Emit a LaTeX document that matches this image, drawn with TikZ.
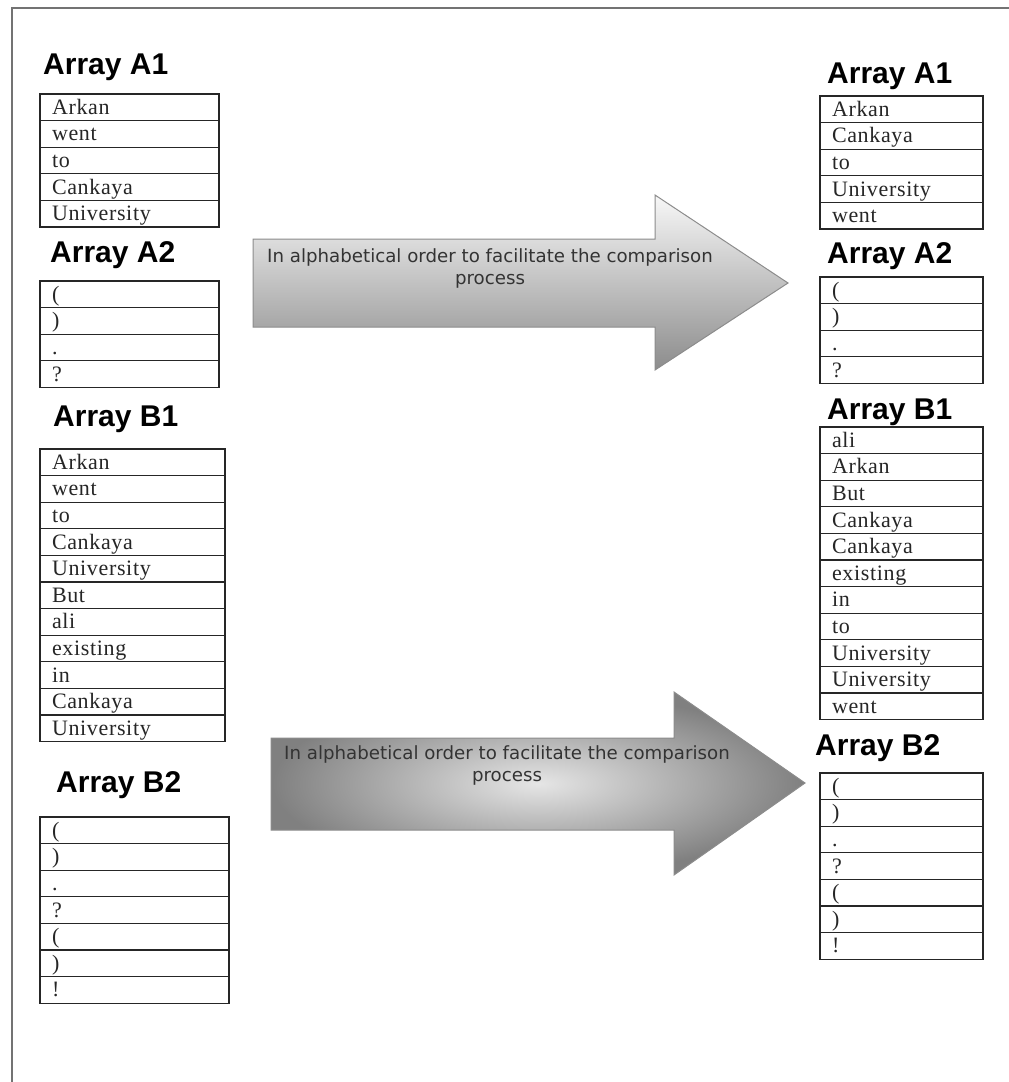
\documentclass[tikz,border=0pt]{standalone}
\usepackage{fontspec}
\newfontfamily\cellfont{Liberation Serif}[LetterSpace=3]
\newfontfamily\titlefont{Liberation Sans}
\newfontfamily\arrowfont{DejaVu Sans}
\usetikzlibrary{positioning}

\begin{document}
\begin{tikzpicture}[
  x=1pt, y=-1pt,
  node distance=0pt,
  cell/.style={draw=black!85, line width=1.3pt, fill=white, outer sep=0pt, inner xsep=12pt, inner ysep=1.3pt,
    text height=19pt, text depth=5pt, align=left, text=black!85, font=\cellfont\fontsize{22}{24}\selectfont},
  cellA/.style={cell, text width=155pt},
  cellB/.style={cell, text width=161pt},
  cellC/.style={cell, text width=165pt},
  cellR/.style={cell, text width=139pt},
  title/.style={anchor=base west, inner sep=0pt, font=\titlefont\bfseries\fontsize{30}{32}\selectfont},
  arrowtext/.style={align=center, inner sep=0pt, text=black!80, font=\arrowfont\fontsize{18.2}{22}\selectfont},
  frame/.style={draw=black!55, line width=2pt}
]
\useasboundingbox (0,0) rectangle (1009,1082);
\draw[frame] (12,1082) -- (12,8) -- (1009,8);

% left side: arrays as read
\node[title] (la1) at (43,74) {Array A1};
\node[cellA, anchor=north west] (la1-1) at (40,94) {Arkan};
\node[cellA, below=of la1-1] (la1-2) {went};
\node[cellA, below=of la1-2] (la1-3) {to};
\node[cellA, below=of la1-3] (la1-4) {Cankaya};
\node[cellA, below=of la1-4] (la1-5) {University};

\node[title] (la2) at (50,262) {Array A2};
\node[cellA, anchor=north west] (la2-1) at (40,281) {(};
\node[cellA, below=of la2-1] (la2-2) {)};
\node[cellA, below=of la2-2] (la2-3) {.};
\node[cellA, below=of la2-3] (la2-4) {?};

\node[title] (lb1) at (53,426) {Array B1};
\node[cellB, anchor=north west] (lb1-1) at (40,449) {Arkan};
\node[cellB, below=of lb1-1] (lb1-2) {went};
\node[cellB, below=of lb1-2] (lb1-3) {to};
\node[cellB, below=of lb1-3] (lb1-4) {Cankaya};
\node[cellB, below=of lb1-4] (lb1-5) {University};
\node[cellB, below=of lb1-5] (lb1-6) {But};
\node[cellB, below=of lb1-6] (lb1-7) {ali};
\node[cellB, below=of lb1-7] (lb1-8) {existing};
\node[cellB, below=of lb1-8] (lb1-9) {in};
\node[cellB, below=of lb1-9] (lb1-10) {Cankaya};
\node[cellB, below=of lb1-10] (lb1-11) {University};

\node[title] (lb2) at (56,792) {Array B2};
\node[cellC, anchor=north west] (lb2-1) at (40,817) {(};
\node[cellC, below=of lb2-1] (lb2-2) {)};
\node[cellC, below=of lb2-2] (lb2-3) {.};
\node[cellC, below=of lb2-3] (lb2-4) {?};
\node[cellC, below=of lb2-4] (lb2-5) {(};
\node[cellC, below=of lb2-5] (lb2-6) {)};
\node[cellC, below=of lb2-6] (lb2-7) {!};

% right side: sorted arrays
\node[title] (ra1) at (827,83) {Array A1};
\node[cellR, anchor=north west] (ra1-1) at (820,96) {Arkan};
\node[cellR, below=of ra1-1] (ra1-2) {Cankaya};
\node[cellR, below=of ra1-2] (ra1-3) {to};
\node[cellR, below=of ra1-3] (ra1-4) {University};
\node[cellR, below=of ra1-4] (ra1-5) {went};

\node[title] (ra2) at (827,263) {Array A2};
\node[cellR, anchor=north west] (ra2-1) at (820,277) {(};
\node[cellR, below=of ra2-1] (ra2-2) {)};
\node[cellR, below=of ra2-2] (ra2-3) {.};
\node[cellR, below=of ra2-3] (ra2-4) {?};

\node[title] (rb1) at (827,419) {Array B1};
\node[cellR, anchor=north west] (rb1-1) at (820,427) {ali};
\node[cellR, below=of rb1-1] (rb1-2) {Arkan};
\node[cellR, below=of rb1-2] (rb1-3) {But};
\node[cellR, below=of rb1-3] (rb1-4) {Cankaya};
\node[cellR, below=of rb1-4] (rb1-5) {Cankaya};
\node[cellR, below=of rb1-5] (rb1-6) {existing};
\node[cellR, below=of rb1-6] (rb1-7) {in};
\node[cellR, below=of rb1-7] (rb1-8) {to};
\node[cellR, below=of rb1-8] (rb1-9) {University};
\node[cellR, below=of rb1-9] (rb1-10) {University};
\node[cellR, below=of rb1-10] (rb1-11) {went};

\node[title] (rb2) at (815,755) {Array B2};
\node[cellR, anchor=north west] (rb2-1) at (820,773) {(};
\node[cellR, below=of rb2-1] (rb2-2) {)};
\node[cellR, below=of rb2-2] (rb2-3) {.};
\node[cellR, below=of rb2-3] (rb2-4) {?};
\node[cellR, below=of rb2-4] (rb2-5) {(};
\node[cellR, below=of rb2-5] (rb2-6) {)};
\node[cellR, below=of rb2-6] (rb2-7) {!};

% block arrows
\draw[draw=black!45, line width=1pt, top color=black!3, bottom color=black!45]
  (253,239) -- (655,239) -- (655,195) -- (788,283) -- (655,370) -- (655,327) -- (253,327) -- cycle;
\node[arrowtext] (sort1) at (490,268) {In alphabetical order to facilitate the comparison\\process};

\draw[draw=black!45, line width=1pt, inner color=black!10, outer color=black!50]
  (271,738) -- (674,738) -- (674,692) -- (805,783) -- (674,875) -- (674,830) -- (271,830) -- cycle;
\node[arrowtext] (sort2) at (507,765) {In alphabetical order to facilitate the comparison\\process};

\end{tikzpicture}
\end{document}
